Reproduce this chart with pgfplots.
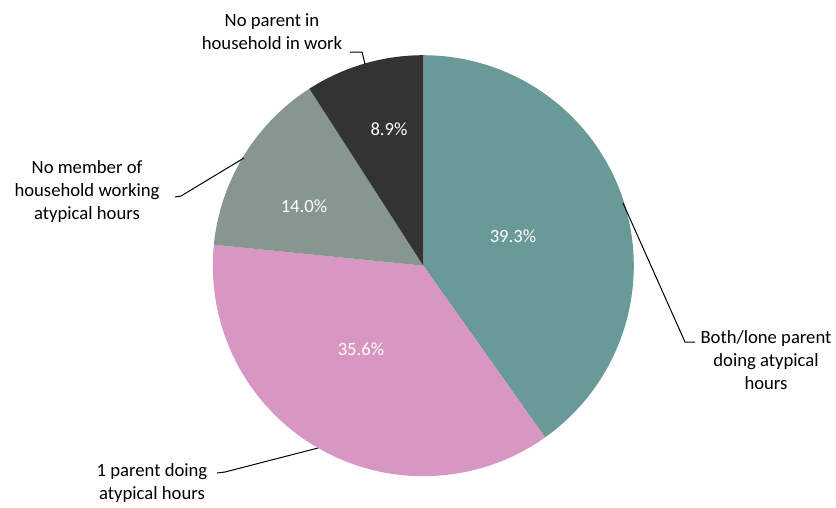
\documentclass[border=0pt]{standalone}
\usepackage{pgfplots}
\usepackage{pgfplotstable}
\pgfplotsset{compat=1.18}
\usepackage{fontspec}
\setmainfont{Carlito}
\definecolor{cBoth}{HTML}{699A98}
\definecolor{cOne}{HTML}{D896C2}
\definecolor{cMem}{HTML}{87968F}
\definecolor{cPar}{HTML}{333333}

\pgfplotstableread{
key value
both 39.3
one 35.6
nomember 14.0
noparent 8.9
}\piedata

\begin{document}
\begin{tikzpicture}
\pgfplotstablegetelem{0}{value}\of\piedata \pgfmathsetmacro{\va}{\pgfplotsretval}
\pgfplotstablegetelem{1}{value}\of\piedata \pgfmathsetmacro{\vb}{\pgfplotsretval}
\pgfplotstablegetelem{2}{value}\of\piedata \pgfmathsetmacro{\vc}{\pgfplotsretval}
\pgfplotstablegetelem{3}{value}\of\piedata \pgfmathsetmacro{\vd}{\pgfplotsretval}
\pgfmathsetmacro{\tot}{\va+\vb+\vc+\vd}
\pgfmathsetmacro{\aA}{90}
\pgfmathsetmacro{\aB}{90-360*\va/\tot}
\pgfmathsetmacro{\aC}{\aB-360*\vb/\tot}
\pgfmathsetmacro{\aD}{\aC-360*\vc/\tot}
\pgfmathsetmacro{\aE}{-270}
\begin{axis}[scale only axis, width=627pt, height=377.25pt,
  xmin=0, xmax=836, ymin=0, ymax=503, hide axis, clip=false]
\path (axis cs:0,0) rectangle (axis cs:836,503);
\addplot[draw=none, fill=cBoth, domain=\aB:\aA, samples=90, variable=\t]
  ({423.3+210.5*cos(\t)},{237.3+210.5*sin(\t)}) -- (axis cs:423.3,237.3) -- cycle;
\addplot[draw=none, fill=cOne, domain=\aC:\aB, samples=90, variable=\t]
  ({423.3+210.5*cos(\t)},{237.3+210.5*sin(\t)}) -- (axis cs:423.3,237.3) -- cycle;
\addplot[draw=none, fill=cMem, domain=\aD:\aC, samples=50, variable=\t]
  ({423.3+210.5*cos(\t)},{237.3+210.5*sin(\t)}) -- (axis cs:423.3,237.3) -- cycle;
\addplot[draw=none, fill=cPar, domain=\aE:\aD, samples=40, variable=\t]
  ({423.3+210.5*cos(\t)},{237.3+210.5*sin(\t)}) -- (axis cs:423.3,237.3) -- cycle;

\tikzset{pl/.style={white, font=\fontsize{14}{17.25}\selectfont}}
\node[pl] at (axis cs:513,267) {39.3\%};
\node[pl] at (axis cs:361,154) {35.6\%};
\node[pl] at (axis cs:304,297) {14.0\%};
\node[pl] at (axis cs:389,374) {8.9\%};

\tikzset{tl/.style={black, align=center, font=\fontsize{14}{17.25}\selectfont}}
\node[tl] at (axis cs:272,471) {No parent in\\household in work};
\node[tl] at (axis cs:87,311) {No member of\\household working\\atypical hours};
\node[tl] at (axis cs:766,143) {Both/lone parent\\doing atypical\\hours};
\node[tl] at (axis cs:152,19.5) {1 parent doing\\atypical hours};

\draw[black, line width=0.75pt] (axis cs:350,451) -- (axis cs:362,451) -- (axis cs:365,439);
\draw[black, line width=0.75pt] (axis cs:175,306) -- (axis cs:181,307) -- (axis cs:244,345);
\draw[black, line width=0.75pt] (axis cs:623,300) -- (axis cs:685,161) -- (axis cs:695,161);
\draw[black, line width=0.75pt] (axis cs:217,30) -- (axis cs:225,31) -- (axis cs:318,55);
\end{axis}
\end{tikzpicture}
\end{document}
